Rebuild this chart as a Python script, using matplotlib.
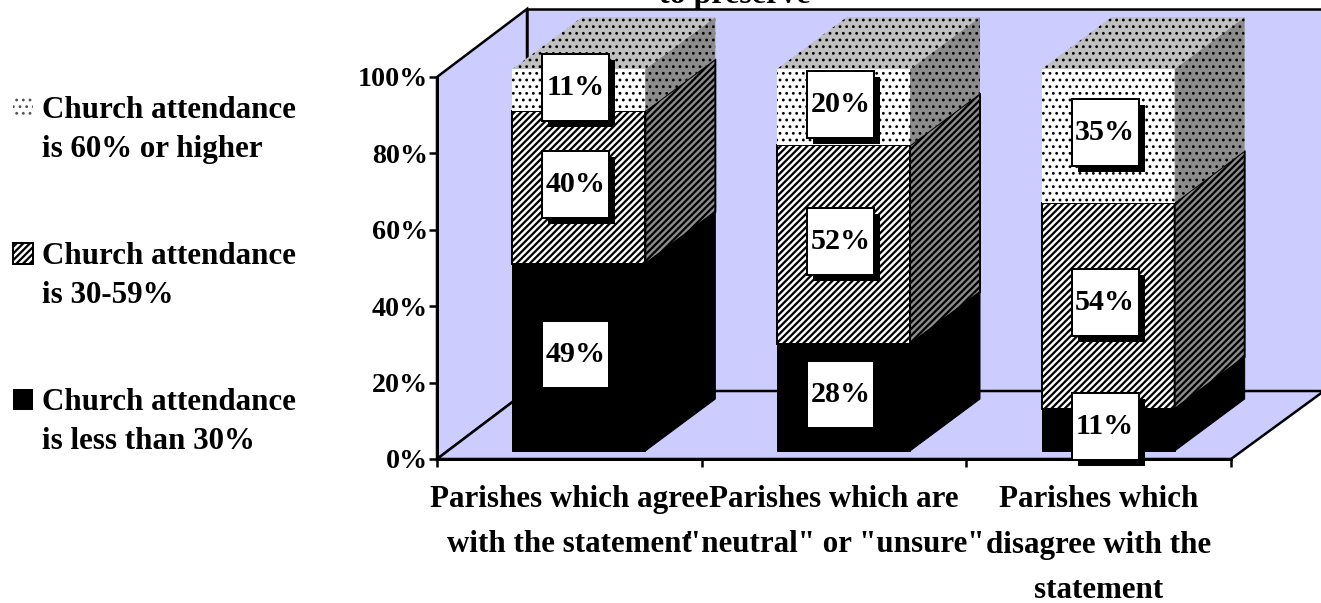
import matplotlib
matplotlib.use("Agg")
import matplotlib.pyplot as plt
from matplotlib.patches import Polygon, Rectangle

# values
categories = ['Parishes which agree\nwith the statement',
              'Parishes which are\n"neutral" or "unsure"',
              'Parishes which\ndisagree with the\nstatement']
low_attendance = [49, 28, 11]
mid_attendance = [40, 52, 54]
high_attendance = [11, 20, 35]
y_ticks = [0, 20, 40, 60, 80, 100]
legend_labels = ['Church attendance\nis 60% or higher',
                 'Church attendance\nis 30-59%',
                 'Church attendance\nis less than 30%']

W, H = 1321, 603
DPI = 80
# one pixel in data units
PX = 3 / 794
PY = 100 / 382
WALL = '#ccccff'
FONT = 'Liberation Serif'
STRIPE = '////'
DOTS = '..'


def pt(px):
    return px * 72 / DPI


def poly(ax, pts, face, hatch=None, lw=0.0, hatch_lw=2.0, z=2):
    plt.rcParams['hatch.linewidth'] = hatch_lw
    p = Polygon(pts, closed=True, facecolor=face, edgecolor='black', hatch=hatch,
                linewidth=lw, clip_on=False, zorder=z)
    ax.add_patch(p)
    return p


def draw_walls(ax):
    dx, dy = 90 * PX, 68 * PY
    # right edge of the back wall runs off the canvas
    rx = 3 + 93 * PX
    poly(ax, [(0, 0), (dx, dy), (dx, 100 + dy), (0, 100)], WALL, lw=pt(2.5), z=1)
    poly(ax, [(dx, dy), (rx, dy), (rx, 100 + dy), (dx, 100 + dy)], WALL, lw=pt(2.5), z=1)
    poly(ax, [(0, 0), (3, 0), (rx, dy), (dx, dy)], WALL, lw=pt(2.5), z=1)


def draw_segment(ax, x, y0, y1, style, z):
    w = 133 * PX
    dx, dy = 70 * PX, 52 * PY
    if style == 'low':
        front = dict(face='black', lw=pt(1))
        side = dict(face='black', lw=pt(1))
    elif style == 'mid':
        front = dict(face='white', hatch=STRIPE, lw=pt(2), hatch_lw=pt(2.3))
        side = dict(face='#8c8c8c', hatch=STRIPE, lw=pt(2), hatch_lw=pt(2.3))
    else:
        front = dict(face='white', hatch=DOTS, hatch_lw=pt(1.5))
        side = dict(face='#8c8c8c', hatch=DOTS, hatch_lw=pt(1.5))
    poly(ax, [(x, y0), (x + w, y0), (x + w, y1), (x, y1)], z=z, **front)
    poly(ax, [(x + w, y0), (x + w + dx, y0 + dy), (x + w + dx, y1 + dy), (x + w, y1)], z=z, **side)


def draw_bars(ax):
    w = 133 * PX
    dx, dy = 70 * PX, 52 * PY
    for i in range(3):
        x = i + 0.5 - w / 2 + 9.5 * PX
        y = 8 * PY
        tops = []
        for val, style in ((low_attendance[i], 'low'), (mid_attendance[i], 'mid'),
                           (high_attendance[i], 'high')):
            y1 = y + val
            draw_segment(ax, x, y, y1, style, 2 + i * 0.1)
            tops.append((y, y1, val))
            y = y1
        poly(ax, [(x, y), (x + w, y), (x + w + dx, y + dy), (x + dx, y + dy)],
             '#c0c0c0', hatch=DOTS, hatch_lw=pt(1.5), z=2 + i * 0.1)
        # value boxes
        cx = x + w / 2 - 3 * PX
        bw, bh = 67 * PX, 67 * PY
        for y0, y1, val in tops:
            cy = (y0 + y1) / 2 + 3 * PY
            ax.add_patch(Rectangle((cx - bw / 2 + 6 * PX, cy - bh / 2 - 6 * PY), bw, bh,
                                   facecolor='black', edgecolor='black', lw=0,
                                   clip_on=False, zorder=4))
            ax.add_patch(Rectangle((cx - bw / 2, cy - bh / 2), bw, bh, facecolor='white',
                                   edgecolor='black', lw=pt(2), clip_on=False, zorder=5))
            ax.text(cx, cy, f'{val}%', ha='center', va='center', family=FONT, weight='bold',
                    fontsize=pt(30), zorder=6)


def draw_legend(fig):
    ys = [118, 264, 410]
    styles = [dict(facecolor='white', hatch=DOTS, lw=0, edgecolor='#555555'),
              dict(facecolor='white', hatch=STRIPE, lw=pt(2), edgecolor='black'),
              dict(facecolor='black', lw=0, edgecolor='black')]
    for y, label, st in zip(ys, legend_labels, styles):
        plt.rcParams['hatch.linewidth'] = pt(2.3) if st.get('hatch') == STRIPE else pt(1.5)
        fig.add_artist(Rectangle((13 / W, 1 - y / H), 20 / W, 21 / H,
                                 transform=fig.transFigure, **st))
        l1, l2 = label.split('\n')
        fig.text(42 / W, 1 - y / H, l1, family=FONT, weight='bold', fontsize=pt(31),
                 va='baseline')
        fig.text(42 / W, 1 - (y + 39) / H, l2, family=FONT, weight='bold', fontsize=pt(31),
                 va='baseline')


def main():
    fig = plt.figure(figsize=(W / DPI, H / DPI), dpi=DPI, facecolor='white')
    ax = fig.add_axes([437 / W, 1 - 459 / H, 794 / W, 382 / H])
    ax.set_xlim(0, 3)
    ax.set_ylim(0, 100)
    ax.patch.set_visible(False)
    for s in ('top', 'right'):
        ax.spines[s].set_visible(False)
    for s in ('left', 'bottom'):
        ax.spines[s].set_linewidth(pt(3))
        ax.spines[s].set_zorder(3)

    ax.set_yticks(y_ticks, [f'{v}%' for v in y_ticks])
    ax.set_xticks([0, 1, 2, 3], [])
    ax.set_xticks([0.5, 1.5, 2.5], categories, minor=True, ha='center', va='top',
                  family=FONT, weight='bold', fontsize=pt(31), linespacing=1.75)
    ax.tick_params(axis='y', length=pt(8), width=pt(2.5), pad=pt(1), labelsize=pt(28))
    ax.tick_params(axis='x', which='major', length=pt(8), width=pt(2.5))
    ax.tick_params(axis='x', which='minor', length=0, pad=pt(26))
    for t in ax.get_yticklabels():
        t.set_family(FONT)
        t.set_weight('bold')

    draw_walls(ax)
    draw_bars(ax)
    draw_legend(fig)
    fig.text(735 / W, 1 - 3 / H, 'to preserve', family=FONT, weight='bold', fontsize=pt(32),
             ha='center', va='baseline')

    fig.savefig('out.png', dpi=DPI)


if __name__ == "__main__":
    main()
